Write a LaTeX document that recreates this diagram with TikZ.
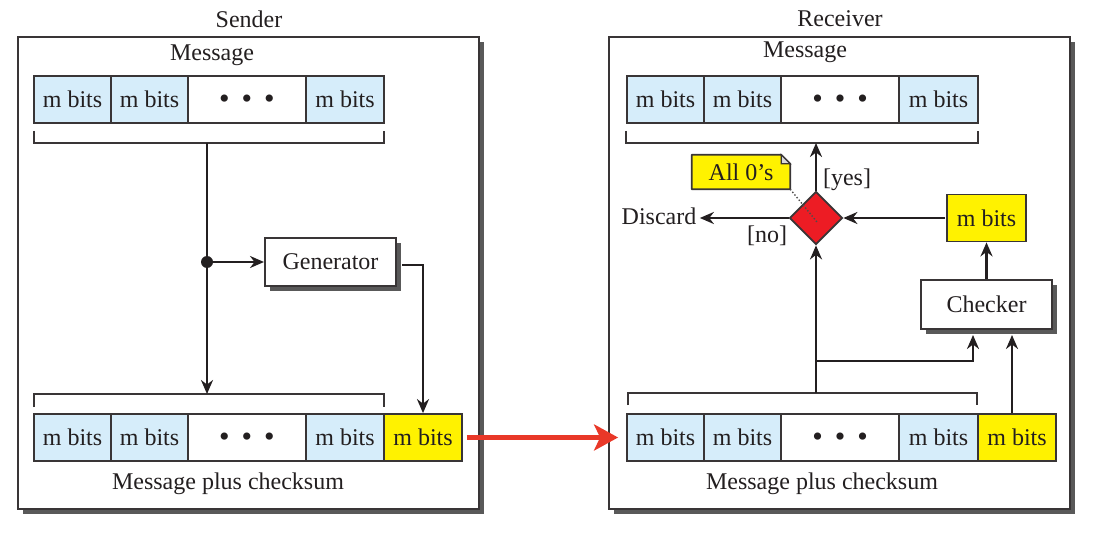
\documentclass[tikz,border=0pt]{standalone}
\usepackage{fontspec}
\setmainfont{Liberation Serif}
\usetikzlibrary{arrows.meta,shapes.geometric,shadows}
\definecolor{mblue}{RGB}{214,237,250}
\definecolor{myellow}{RGB}{255,242,0}
\definecolor{mred}{RGB}{237,28,36}
\definecolor{arrred}{RGB}{233,56,40}
\definecolor{ink}{RGB}{35,31,32}
\newcommand{\mydots}{\raisebox{-9pt}[0pt][0pt]{\fontsize{30}{30}\selectfont\textbullet\hspace{12pt}\textbullet\hspace{12pt}\textbullet}}
\begin{document}
\begin{tikzpicture}[x=1pt,y=-1pt,
  every node/.style={font=\fontsize{24}{28}\selectfont, text=ink},
  cell/.style={draw=ink!90, line width=1.8pt, minimum height=47pt, inner sep=0pt},
  bcell/.style={cell, fill=mblue},
  ycell/.style={cell, fill=myellow},
  wcell/.style={cell, fill=white},
  shad/.style={drop shadow={shadow xshift=5pt, shadow yshift=-5pt, fill=black!65, opacity=1}},
  outer/.style={draw=ink!90, line width=2.2pt, fill=white, shad, inner sep=0pt},
  procbox/.style={draw=ink!90, line width=2pt, fill=white, shad, inner sep=0pt, minimum height=48pt},
  arr/.style={draw=ink, line width=2.3pt, -{Stealth[length=14pt,width=12pt]}},
  brk/.style={draw=ink!90, line width=2.2pt},
]
\useasboundingbox (0,0) rectangle (1099,534);

% ---------------- Sender ----------------
\node[outer, minimum width=461pt, minimum height=472pt] (sbox) at (248.5,273) {};
\node (stitle) at (249,19) {Sender};
\node (smsg) at (212,55) {Message};

\node[bcell, minimum width=77pt] (s1) at (72.5,99.5) {m bits};
\node[bcell, minimum width=77pt] (s2) at (149.5,99.5) {m bits};
\node[wcell, minimum width=118pt] (s3) at (247,99.5) {\mydots};
\node[bcell, minimum width=78pt] (s4) at (345,99.5) {m bits};

\coordinate (sbt1) at (34,131);
\coordinate (sbt2) at (34,143);
\coordinate (sbt3) at (384,143);
\coordinate (sbt4) at (384,131);
\draw[brk] (sbt1) -- (sbt2) -- (sbt3) -- (sbt4);
\coordinate (stop) at (207,143);

\node[bcell, minimum width=77pt] (t1) at (72.5,437.5) {m bits};
\node[bcell, minimum width=77pt] (t2) at (149.5,437.5) {m bits};
\node[wcell, minimum width=118pt] (t3) at (247,437.5) {\mydots};
\node[bcell, minimum width=78pt] (t4) at (345,437.5) {m bits};
\node[ycell, minimum width=78pt] (t5) at (423,437.5) {m bits};

\coordinate (sbb1) at (34,407);
\coordinate (sbb2) at (34,394);
\coordinate (sbb3) at (384,394);
\coordinate (sbb4) at (384,407);
\draw[brk] (sbb1) -- (sbb2) -- (sbb3) -- (sbb4);
\coordinate (sbot) at (207,394);

\node (splus) at (228,484) {Message plus checksum};

\node[procbox, minimum width=131pt] (gen) at (330.5,262) {Generator};
\node[circle, fill=ink, inner sep=0pt, minimum size=12pt] (dot) at (207,262) {};

\draw[arr] (stop) -- (sbot);
\draw[arr] (dot) -- (dot -| gen.west);
\draw[arr] ([xshift=5pt,yshift=-3pt]gen.east) -| (t5.north);

% ---------------- Receiver ----------------
\node[outer, minimum width=461pt, minimum height=472pt] (rbox) at (839.5,273) {};
\node (rtitle) at (840,19) {Receiver};
\node (rmsg) at (805,52) {Message};

\node[bcell, minimum width=77pt] (r1) at (665.5,99.5) {m bits};
\node[bcell, minimum width=77pt] (r2) at (742.5,99.5) {m bits};
\node[wcell, minimum width=118pt] (r3) at (840,99.5) {\mydots};
\node[bcell, minimum width=79pt] (r4) at (938.5,99.5) {m bits};

\coordinate (rbt1) at (626,131);
\coordinate (rbt2) at (626,143);
\coordinate (rbt3) at (978,143);
\coordinate (rbt4) at (978,131);
\draw[brk] (rbt1) -- (rbt2) -- (rbt3) -- (rbt4);
\coordinate (rtop) at (816,143);

\node[bcell, minimum width=77pt] (q1) at (665.5,437.5) {m bits};
\node[bcell, minimum width=77pt] (q2) at (742.5,437.5) {m bits};
\node[wcell, minimum width=118pt] (q3) at (840,437.5) {\mydots};
\node[bcell, minimum width=79pt] (q4) at (938.5,437.5) {m bits};
\node[ycell, minimum width=78pt] (q5) at (1017,437.5) {m bits};

\coordinate (rbb1) at (628,405);
\coordinate (rbb2) at (628,393);
\coordinate (rbb3) at (977,393);
\coordinate (rbb4) at (977,405);
\draw[brk] (rbb1) -- (rbb2) -- (rbb3) -- (rbb4);
\coordinate (rbot) at (816,393);
\coordinate (rjoin) at (816,361);

\node (rplus) at (822,484) {Message plus checksum};

\node[diamond, draw=ink!90, line width=1.8pt, fill=mred, minimum width=53pt, minimum height=53pt, inner sep=0pt] (dia) at (816,218) {};
\node[ycell, minimum width=79pt] (rym) at (986.5,218) {m bits};
\node[procbox, minimum width=131pt, minimum height=49pt] (chk) at (986.5,304.5) {Checker};
\node (discard) at (659,216) {Discard};
\node (yes) at (847,180) {[yes]};
\node (no) at (767,236) {[no]};

% note
\node[minimum width=98pt, minimum height=34pt, inner sep=0pt] (note) at (741,172) {};
\fill[myellow] (note.south west) -- (note.north west) -- ([xshift=-9pt]note.north east) -- ([yshift=-9pt]note.north east) -- (note.south east) -- cycle;
\draw[ink!90, line width=1.8pt, line join=round] (note.south west) -- (note.north west) -- ([xshift=-9pt]note.north east) -- ([yshift=-9pt]note.north east) -- (note.south east) -- cycle;
\filldraw[fill=black!15, draw=ink!90, line width=1.2pt] ([xshift=-9pt]note.north east) -- ([xshift=-9pt,yshift=-9pt]note.north east) -- ([yshift=-9pt]note.north east) -- cycle;
\node at (note.center) {All 0’s};
\draw[ink!80, line width=1.4pt, dotted] (note.south east) -- ([xshift=1pt,yshift=-4pt]dia.center);

\draw[arr] (dia.north) -- (rtop);
\draw[arr] (dia.west) -- (dia.west -| discard.east);
\draw[arr] ([xshift=-1pt]rym.west) -- (dia.east);
\draw[arr] (chk.north) -- (rym.south);
\draw[arr] (rbot) -- (dia.south);
\draw[arr] (rjoin) -| ([xshift=-13.5pt,yshift=-5pt]chk.south);
\draw[arr] ([xshift=-5pt]q5.north) -- ([xshift=25.5pt,yshift=-5pt]chk.south);

% transfer arrow
\draw[arrred, line width=5pt, -{Stealth[length=24pt,width=26pt,inset=6pt]}, shorten <=4pt, shorten >=8pt] (t5.east) -- (q1.west);
\end{tikzpicture}
\end{document}
